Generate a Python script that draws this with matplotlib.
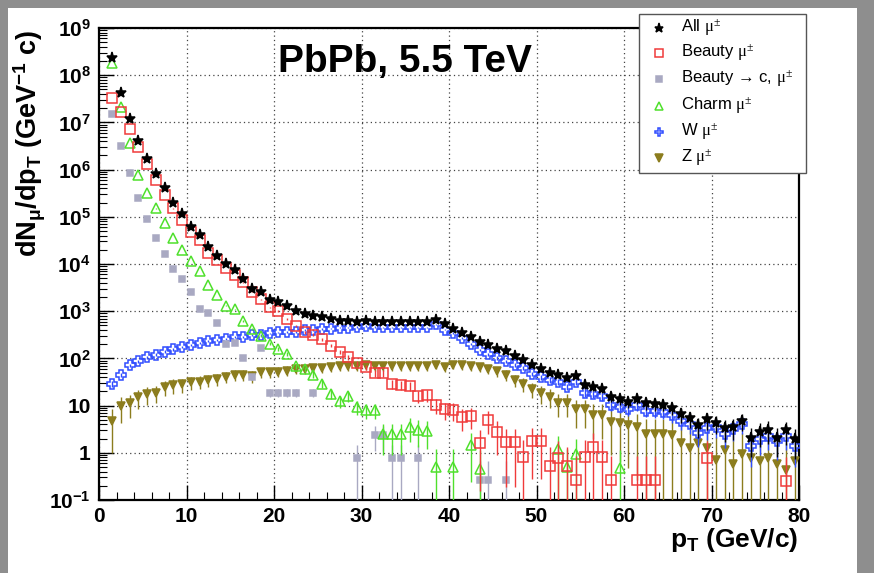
import numpy as np
import matplotlib
matplotlib.use('Agg')
import matplotlib.pyplot as plt
from matplotlib.ticker import MultipleLocator, LogLocator, NullFormatter, FuncFormatter
from matplotlib.patches import Rectangle
from matplotlib.lines import Line2D

plt.rcParams['font.family'] = ['Liberation Sans', 'DejaVu Sans']
plt.rcParams['mathtext.fontset'] = 'custom'
plt.rcParams['mathtext.rm'] = 'Liberation Sans:bold'
plt.rcParams['mathtext.it'] = 'Liberation Sans:bold'
plt.rcParams['mathtext.bf'] = 'Liberation Sans:bold'
plt.rcParams['mathtext.sf'] = 'Liberation Serif'

nan = np.nan

# bin centres (1 GeV/c bins)
pt = np.arange(1.5, 80.0, 1.0)

all_mu = [2.3e8, 4.3e7, 1.2e7, 4.1e6, 1.7e6, 8.1e5, 4.1e5, 2.0e5, 1.15e5, 6.2e4,
          4.2e4, 2.3e4, 1.5e4, 1.0e4, 7.6e3, 4.8e3, 3.0e3, 2.6e3, 1.75e3, 1.55e3,
          1.26e3, 1.0e3, 890, 810, 760, 690, 630, 630, 590, 620,
          590, 590, 590, 590, 600, 600, 600, 660, 525, 415,
          350, 290, 225, 190, 162, 145, 112, 93, 72, 59,
          50, 45, 38, 43, 27.5, 25, 22.4, 15.5, 13.5, 12.0,
          14.1, 11.2, 10.7, 10.5, 8.9, 6.6, 5.4, 3.8, 5.1, 4.3,
          3.3, 3.6, 4.8, 2.1, 2.8, 3.1, 2.1, 3.0, 2.0]

beauty = [3.3e7, 1.7e7, 7.2e6, 3.0e6, 1.3e6, 5.9e5, 2.9e5, 1.5e5, 8.5e4, 4.8e4,
          3.2e4, 1.7e4, 1.2e4, 8.3e3, 5.8e3, 4.1e3, 2.6e3, 1.8e3, 1.2e3, 1.0e3,
          690, 490, 355, 320, 257, 186, 135, 105, 79, 65,
          48, 48, 29, 27, 26, 16, 16.6, 10.2, 8.3, 7.9,
          5.6, 6.0, 1.6, 5.0, 2.8, 1.66, 1.66, 0.81, 1.82, 1.82,
          0.52, 0.79, 0.52, 0.27, 0.81, 1.32, 0.81, 0.27, nan, nan,
          0.27, 0.27, 0.27, nan, nan, nan, nan, nan, 0.76, nan,
          nan, nan, nan, nan, nan, nan, nan, 0.25, nan]

beauty_c = [1.5e7, 3.2e6, 8.3e5, 2.5e5, 8.9e4, 3.6e4, 1.6e4, 7.9e3, 4.9e3, 2.5e3,
            1.1e3, 910, 550, 200, 214, 100, 40, 166, 18.6, 18.6,
            18.6, 18.6, nan, 18.6, nan, nan, nan, nan, 0.76, nan,
            2.4, 2.4, 0.76, 0.76, nan, 0.76, nan, nan, nan, nan,
            nan, nan, 0.26, 0.26, nan, 0.26, nan, nan, nan, nan,
            nan, nan, nan, nan, nan, nan, nan, nan, nan, nan,
            nan, nan, nan, nan, nan, nan, nan, nan, nan, nan,
            nan, nan, nan, nan, nan, nan, nan, nan, nan]

charm = [1.8e8, 2.1e7, 3.6e6, 7.8e5, 3.2e5, 1.5e5, 7.4e4, 3.5e4, 2.0e4, 1.15e4,
         7.1e3, 3.6e3, 2.2e3, 1.3e3, 1.1e3, 620, 420, 300, 204, 158,
         123, 68, 59, 45, 29, 18, 12.3, 15.8, 9.3, 7.9,
         7.9, 2.45, 2.5, 2.5, 3.6, 3.1, 2.95, 0.51, nan, 0.49,
         nan, 1.45, 0.45, nan, nan, nan, nan, nan, nan, nan,
         nan, 1.2, 0.51, 0.95, nan, nan, nan, nan, 0.47, nan,
         nan, nan, nan, nan, nan, nan, nan, nan, nan, nan,
         nan, nan, nan, nan, nan, nan, nan, nan, nan]

w_mu = [29, 45, 71, 87, 107, 120, 138, 155, 174, 190,
        209, 234, 245, 257, 282, 288, 309, 309, 339, 355,
        363, 363, 398, 398, 417, 427, 447, 447, 468, 490,
        468, 457, 457, 457, 457, 457, 457, 525, 407, 347,
        275, 204, 151, 123, 102, 87, 72, 62, 47, 40,
        35, 32, 25, 32, 18.6, 17.4, 15.8, 10.2, 9.5, 8.3,
        10.2, 7.8, 7.6, 7.4, 6.3, 4.8, 4.1, 2.6, 3.3, 3.5,
        2.5, 3.2, 4.0, 1.41, 2.0, 2.3, 1.74, 2.3, 1.41]

z_mu = [4.8, 9.8, 11.2, 15.1, 17.8, 18.6, 24.5, 27, 28, 31,
        32, 35, 36, 41, 44, 44, 42, 51, 51, 52,
        55, 60, 60, 62, 62, 65, 68, 68, 68, 71,
        68, 68, 68, 68, 68, 68, 68, 74, 66, 74,
        72, 69, 65, 60, 54, 44, 35, 29, 22.4, 18.2,
        15.5, 11.5, 11.5, 8.3, 8.3, 6.3, 6.3, 4.6, 4.2, 3.9,
        3.5, 2.5, 2.5, 2.45, 2.4, 1.58, 1.29, 1.58, 1.29, 0.72,
        1.17, 0.58, 0.93, 0.76, 0.68, 0.79, 0.58, 0.44, 0.66]

# per-series event weight used for the statistical error bars
weights = {'all': 0.8, 'beauty': 1.3, 'beauty_c': 0.7, 'charm': 1.0, 'w': 0.6, 'z': 3.0}

labels = [r'All $\mathsf{μ^{±}}$', r'Beauty $\mathsf{μ^{±}}$', r'Beauty $\mathsf{→}$ c, $\mathsf{μ^{±}}$',
          r'Charm $\mathsf{μ^{±}}$', r'W $\mathsf{μ^{±}}$', r'Z $\mathsf{μ^{±}}$']

W, H = 874, 573
fig = plt.figure(figsize=(W / 100, H / 100), dpi=100, facecolor='#8e8e8e')
fig.add_artist(Rectangle((8 / W, 0), (857 - 8) / W, (H - 8) / H, transform=fig.transFigure,
                         facecolor='white', edgecolor='none', zorder=-10))

ax = fig.add_axes([99 / W, (H - 500) / H, 700 / W, 472 / H])
ax.set_yscale('log')
ax.set_xlim(0, 80)
ax.set_ylim(0.1, 1e9)

styles = [
    # data, weight key, marker, color, ms, filled, zorder
    (z_mu, 'z', 'v', '#8c7d1e', 6.0, True, 3),
    (w_mu, 'w', 'P', '#2f4cff', 7.0, False, 4),
    (charm, 'charm', '^', '#4fe02c', 6.5, False, 5),
    (beauty_c, 'beauty_c', 's', '#a9a9c2', 5.0, True, 4),
    (beauty, 'beauty', 's', '#f03a3a', 6.5, False, 6),
    (all_mu, 'all', '*', 'black', 8.0, True, 7),
]

for data, key, mk, col, ms, filled, zo in styles:
    y = np.array(data, dtype=float)
    err = np.sqrt(y * weights[key])
    lo = np.where(y - err > 0, err, y - 1e-4)
    ax.errorbar(pt, y, yerr=[lo, err], fmt=mk, ms=ms,
                mfc=col if filled else 'none', mec=col, mew=1.1,
                ecolor=col, elinewidth=1.0, capsize=0, zorder=zo)

# axes styling
ax.xaxis.set_major_locator(MultipleLocator(10))
ax.xaxis.set_minor_locator(MultipleLocator(2))
ax.yaxis.set_major_locator(LogLocator(base=10, numticks=20))
ax.yaxis.set_minor_locator(LogLocator(base=10, subs=np.arange(2, 10), numticks=40))
ax.yaxis.set_minor_formatter(NullFormatter())


def yfmt(v, pos):
    e = int(round(np.log10(v)))
    if e == 0:
        return '1'
    if e == 1:
        return '10'
    return r'$10^{%d}$' % e


ax.yaxis.set_major_formatter(FuncFormatter(yfmt))
ax.tick_params(which='major', direction='in', length=11, width=1.0, labelsize=15, pad=6)
ax.tick_params(which='minor', direction='in', length=5.5, width=0.8)
ax.tick_params(axis='x', which='major', pad=5)
for lab in ax.get_xticklabels() + ax.get_yticklabels():
    lab.set_fontweight('bold')
for sp in ax.spines.values():
    sp.set_linewidth(1.6)
ax.grid(True, which='major', linestyle=(0, (1, 2.5)), color='#444444', linewidth=0.9)

# texts
fig.text(405 / W, 1 - 62 / H, 'PbPb, 5.5 TeV', ha='center', va='center', fontsize=28, fontweight='bold')
fig.text(798 / W, 1 - 540 / H, r'$p_{T}$ (GeV/c)', ha='right', va='center', fontsize=19, fontweight='bold')
fig.text(30 / W, 1 - 143 / H, r'$dN_{μ}/dp_{T}$ (GeV$^{-1}$ c)', rotation=90, ha='center', va='center',
         fontsize=19.5, fontweight='bold')

# legend box
lx0, lx1, ly0, ly1 = 639, 806, 14, 173
fig.add_artist(Rectangle((lx0 / W, 1 - ly1 / H), (lx1 - lx0) / W, (ly1 - ly0) / H, transform=fig.transFigure,
                         facecolor='white', edgecolor='#555555', linewidth=1.0, zorder=20))
leg_order = [styles[5], styles[4], styles[3], styles[2], styles[1], styles[0]]
rows = [28, 53, 79, 106, 132, 158]
for (data, key, mk, col, ms, filled, zo), ry, lab in zip(leg_order, rows, labels):
    fig.add_artist(Line2D([659 / W], [1 - ry / H], transform=fig.transFigure, marker=mk, ms=ms * 0.85,
                          mfc=col if filled else 'none', mec=col, mew=1.1, linestyle='none', zorder=21))
    fig.text(681 / W, 1 - ry / H, lab, ha='left', va='center', fontsize=12, zorder=22)

fig.savefig('out.png', dpi=100, facecolor=fig.get_facecolor())
